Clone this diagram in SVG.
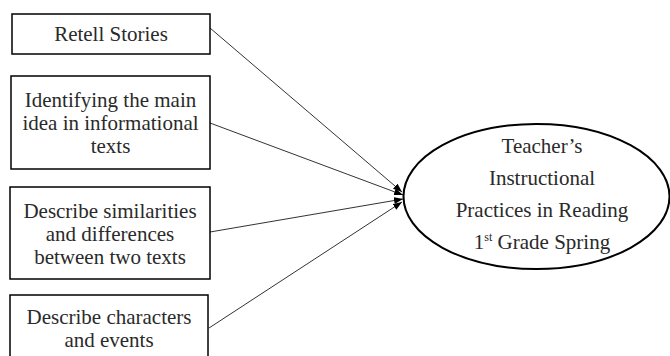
<svg xmlns="http://www.w3.org/2000/svg" width="670" height="356" viewBox="0 0 670 356">
<style>
.box{fill:#fff;stroke:#000;stroke-width:1.5}
.t{font-family:"Liberation Serif","Times New Roman",serif;font-size:21px;fill:#2a2a2a;text-anchor:middle}
.c{stroke:#333;stroke-width:1;fill:none;marker-end:url(#ah)}
</style>
<defs>
<marker id="ah" markerWidth="9" markerHeight="7" refX="9" refY="3.5" orient="auto" markerUnits="userSpaceOnUse">
<path d="M0,0 L9,3.5 L0,7 Z" fill="#000"/>
</marker>
</defs>
<rect width="670" height="356" fill="#fff"/>
<g id="connectors">
<line class="c" x1="210" y1="28" x2="402" y2="192"/>
<line class="c" x1="210" y1="123" x2="403" y2="195"/>
<line class="c" x1="210" y1="232" x2="403" y2="199"/>
<line class="c" x1="209" y1="328" x2="402" y2="202"/>
</g>
<g id="n1">
<rect class="box" x="12" y="14" width="198" height="40"/>
<text class="t" x="111" y="41">Retell Stories</text>
</g>
<g id="n2">
<rect class="box" x="11" y="76" width="199" height="93"/>
<text class="t" x="110.5" y="107">Identifying the main</text>
<text class="t" x="110.5" y="130">idea in informational</text>
<text class="t" x="110.5" y="153">texts</text>
</g>
<g id="n3">
<rect class="box" x="10" y="187" width="200" height="92"/>
<text class="t" x="110" y="218">Describe similarities</text>
<text class="t" x="110" y="241">and differences</text>
<text class="t" x="110" y="264">between two texts</text>
</g>
<g id="n4">
<rect class="box" x="10" y="295" width="198" height="70"/>
<text class="t" x="109" y="324">Describe characters</text>
<text class="t" x="109" y="347">and events</text>
</g>
<g id="target">
<ellipse cx="536.5" cy="196.5" rx="133" ry="72.5" fill="#fff" stroke="#000" stroke-width="2"/>
<text class="t" x="542" y="153">Teacher’s</text>
<text class="t" x="542" y="185">Instructional</text>
<text class="t" x="542" y="217">Practices in Reading</text>
<text class="t" x="542" y="249">1<tspan font-size="12" dy="-8">st</tspan><tspan dy="8"> Grade Spring</tspan></text>
</g>
</svg>
